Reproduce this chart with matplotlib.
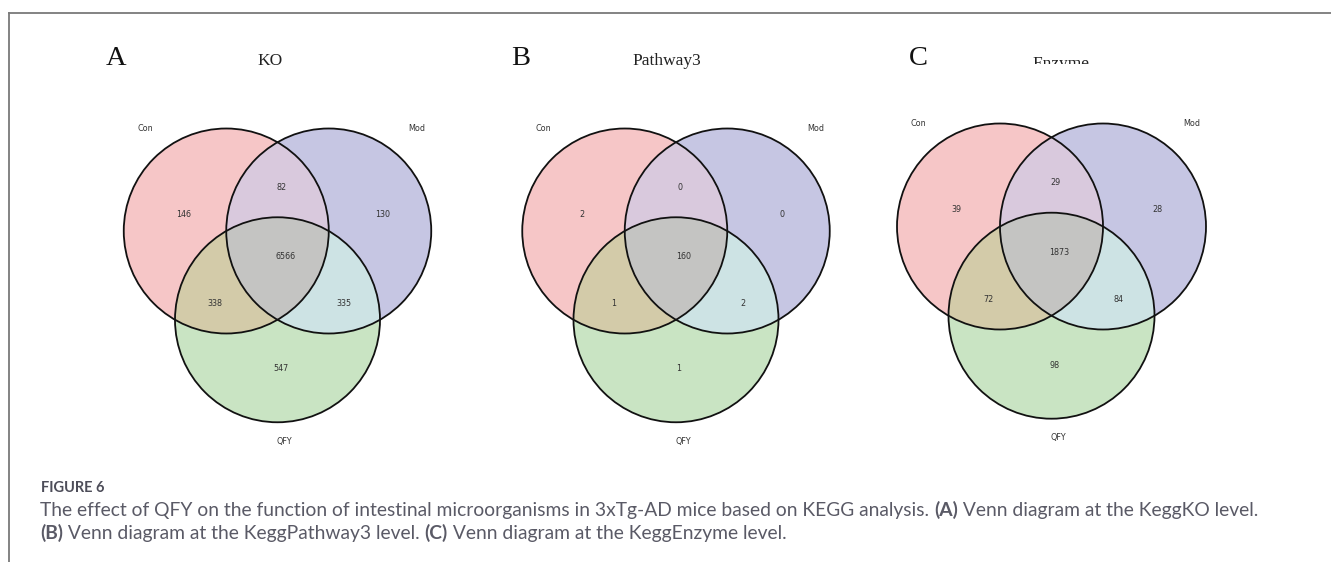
import numpy as np
import matplotlib
matplotlib.use("Agg")
import matplotlib.pyplot as plt
from matplotlib.patches import Circle, Polygon

W, H = 1331, 562
fig = plt.figure(figsize=(W / 100, H / 100), dpi=100)

# ---------------- data ----------------
set_names = ["Con", "Mod", "QFY"]
panel_letters = ["A", "B", "C"]
panel_titles = ["KO", "Pathway3", "Enzyme"]
# region order: Con only, Mod only, QFY only, Con&Mod, Con&QFY, Mod&QFY, all three
ko_counts = [146, 130, 547, 82, 338, 335, 6566]
pathway3_counts = [2, 0, 1, 0, 1, 2, 160]
enzyme_counts = [39, 28, 98, 29, 72, 84, 1873]
all_counts = [ko_counts, pathway3_counts, enzyme_counts]

# ---------------- style ----------------
c_con, c_mod, c_qfy = "#f6c6c7", "#c6c6e3", "#c9e4c3"
c_cm, c_cq, c_mq, c_all = "#d9c9dd", "#d3cba9", "#cde3e4", "#c4c4c2"
txt_col = "#333333"

# panel geometry in pixels: (cx, cy, r)
panels = [(277.5, 231.0, 102.5), (676.0, 231.0, 102.5), (1051.5, 226.5, 103.0)]

# label offsets in units of radius (layout)
region_pos = [(-0.92, 0.165), (1.03, 0.165), (0.03, -1.345),
              (0.04, 0.425), (-0.61, -0.705), (0.65, -0.705), (0.075, -0.25)]
name_pos = [(-1.29, 1.0), (1.36, 1.0), (0.07, -2.05)]

h3 = np.sqrt(3) / 2
centers = [(-0.5, 0.0), (0.5, 0.0), (0.0, -h3)]


def add_panel(cx, cy, r, counts):
    L, R, T, B = 2.4, 2.4, 1.5, 2.4
    left = cx - L * r
    bottom_px = cy + B * r
    ax = fig.add_axes([left / W, 1 - bottom_px / H, (L + R) * r / W, (T + B) * r / H])
    ax.set_xlim(-L, R)
    ax.set_ylim(-B, T)
    ax.axis("off")
    ax.patch.set_visible(False)
    td = ax.transData

    def circ(i, **kw):
        return Circle(centers[i], 1.0, transform=td, **kw)

    for i, col in enumerate([c_con, c_mod, c_qfy]):
        ax.add_patch(circ(i, facecolor=col, edgecolor="none", zorder=1))

    clip_con = circ(0)
    clip_mod = circ(1)
    clip_qfy = circ(2)
    p = ax.add_patch(circ(1, facecolor=c_cm, edgecolor="none", zorder=2))
    p.set_clip_path(clip_con)
    p = ax.add_patch(circ(2, facecolor=c_cq, edgecolor="none", zorder=2))
    p.set_clip_path(clip_con)
    p = ax.add_patch(circ(2, facecolor=c_mq, edgecolor="none", zorder=2))
    p.set_clip_path(clip_mod)
    # lens Con & Mod, clipped by QFY -> centre
    a1 = np.radians(np.linspace(-60, 60, 200))
    a2 = np.radians(np.linspace(120, 240, 200))
    xs = np.concatenate([centers[0][0] + np.cos(a1), centers[1][0] + np.cos(a2)])
    ys = np.concatenate([centers[0][1] + np.sin(a1), centers[1][1] + np.sin(a2)])
    lens = Polygon(np.column_stack([xs, ys]), closed=True, facecolor=c_all,
                   edgecolor="none", zorder=3, transform=td)
    ax.add_patch(lens)
    lens.set_clip_path(clip_qfy)

    for i in range(3):
        ax.add_patch(circ(i, fill=False, edgecolor="#111111", lw=1.3, zorder=5))

    for (x, y), v in zip(region_pos, counts):
        ax.text(x, y, str(v), ha="center", va="center", fontsize=5.8,
                color=txt_col, zorder=6)
    for (x, y), n in zip(name_pos, set_names):
        ax.text(x, y, n, ha="center", va="center", fontsize=5.8,
                color=txt_col, zorder=6)
    return ax


for (cx, cy, r), cnt in zip(panels, all_counts):
    add_panel(cx, cy, r, cnt)

# panel letters and titles (pixel layout)
letter_xy = [(116, 65), (521, 65), (918, 65)]
title_xy = [(270, 65), (667, 65), (1061, 68)]
for (x, y), s in zip(letter_xy, panel_letters):
    fig.text(x / W, 1 - y / H, s, ha="center", va="baseline", fontsize=20.5,
             family="Liberation Serif", color="#111111")
for k, ((x, y), s) in enumerate(zip(title_xy, panel_titles)):
    if k < 2:
        fig.text(x / W, 1 - y / H, s, ha="center", va="baseline", fontsize=12.5,
                 family="Liberation Serif", color="#222222")
    else:
        # title partly hidden (cropped) in the source image
        cax = fig.add_axes([990 / W, 1 - 64 / H, 140 / W, 24 / H])
        cax.axis("off")
        cax.set_xlim(990, 1130)
        cax.set_ylim(64, 40)
        cax.text(x, y, s, ha="center", va="baseline", fontsize=12.5,
                 family="Liberation Serif", color="#222222", clip_on=True)

# frame lines
line_col = "#7a7a7a"
fig.add_artist(plt.Line2D([8.5 / W, 1.0], [1 - 13 / H, 1 - 13 / H],
                          transform=fig.transFigure, color=line_col, lw=1.3))
fig.add_artist(plt.Line2D([8.5 / W, 8.5 / W], [1 - 13 / H, 0.0],
                          transform=fig.transFigure, color=line_col, lw=1.3))

# caption
cap_col = "#5a5a66"
fig.canvas.draw()
renderer = fig.canvas.get_renderer()
cap_font = "Lato"

line1 = [("The effect of QFY on the function of intestinal microorganisms in 3xTg-AD mice based on KEGG analysis. ", "normal"),
         ("(A)", "bold"), (" Venn diagram at the KeggKO level.", "normal")]
line2 = [("(B)", "bold"), (" Venn diagram at the KeggPathway3 level. ", "normal"),
         ("(C)", "bold"), (" Venn diagram at the KeggEnzyme level.", "normal")]


def run_width(runs, size):
    w = 0
    for s, wt in runs:
        t = fig.text(0, 0, s.replace(" ", "\u00a0"), fontsize=size, fontweight=wt, family=cap_font)
        w += t.get_window_extent(renderer).width
        t.remove()
    return w


base = 12.0
w0 = run_width(line1, base)
size = base * 1219.0 / w0


def draw_runs(x, y, runs, size):
    for s, wt in runs:
        t = fig.text(x / W, 1 - y / H, s.replace(" ", "\u00a0"), fontsize=size,
                     fontweight=wt, family=cap_font, color=cap_col, va="baseline")
        x += t.get_window_extent(renderer).width


draw_runs(40, 516, line1, size)
draw_runs(40, 539, line2, size)
fig.text(41 / W, 1 - 492 / H, "FIGURE 6", fontsize=size * 0.76, fontweight="bold",
         family=cap_font, color="#4d4d59", va="baseline")

fig.savefig("out.png", dpi=100, facecolor="white")
